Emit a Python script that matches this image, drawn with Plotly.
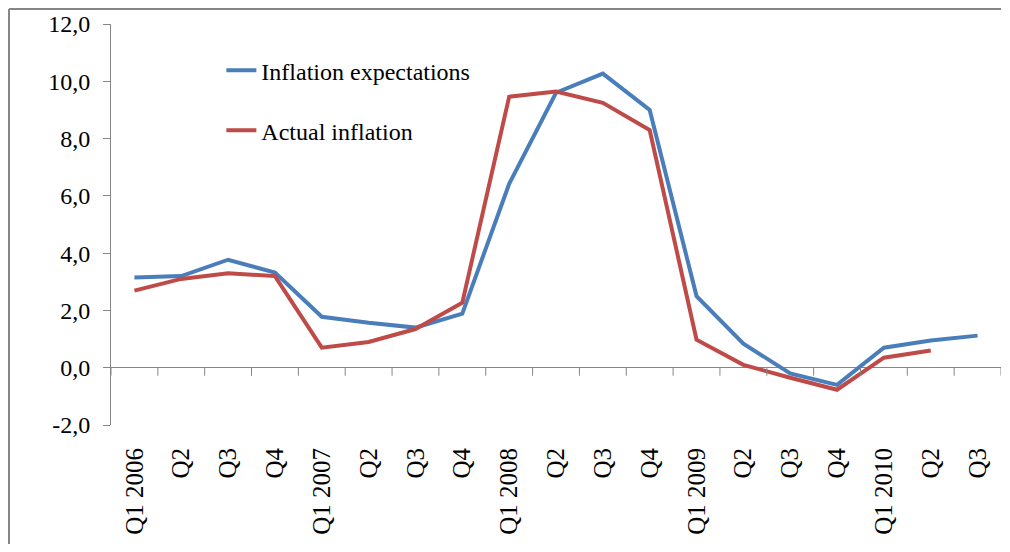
import plotly.graph_objects as go

quarters = ["Q1 2006", "Q2", "Q3", "Q4", "Q1 2007", "Q2", "Q3", "Q4",
            "Q1 2008", "Q2", "Q3", "Q4", "Q1 2009", "Q2", "Q3", "Q4",
            "Q1 2010", "Q2", "Q3"]
expectations = [3.15, 3.2, 3.77, 3.32, 1.78, 1.57, 1.4, 1.89,
                6.42, 9.6, 10.27, 9.0, 2.5, 0.84, -0.2, -0.6,
                0.7, 0.95, 1.12]
actual = [2.69, 3.1, 3.3, 3.2, 0.7, 0.9, 1.35, 2.27,
          9.46, 9.64, 9.25, 8.3, 0.98, 0.1, -0.35, -0.77,
          0.35, 0.6]
y_ticks = [-2, 0, 2, 4, 6, 8, 10, 12]
y_ticktext = [f"{v:.1f}".replace(".", ",") for v in y_ticks]

FONT = "Liberation Serif"
GRAY = "#868686"
FS = 24
xs = list(range(len(quarters)))
n = len(quarters)

W, H = 994, 536
L, R, T, B = 103, 1, 16, 119
PW, PH = W - L - R, H - T - B

fig = go.Figure()
fig.add_trace(go.Scatter(x=xs, y=expectations, mode="lines", name="Inflation expectations",
                         legendgroup="a", line=dict(color="#4A7EBB", width=4)))
fig.add_trace(go.Scatter(x=xs[:len(actual)], y=actual, mode="lines", name="Actual inflation",
                         legendgroup="b", line=dict(color="#BE4B48", width=4)))

# category-boundary tick marks on the zero line
tick_shapes = [dict(type="line", xref="x", yref="y", ysizemode="pixel", yanchor=0,
                    x0=i - 0.5, x1=i - 0.5, y0=0, y1=-8,
                    line=dict(color=GRAY, width=1))
               for i in range(n + 1)]

bx = -(L - 1) / PW
by = 1 + (T - 1) / PH
border = [
    dict(type="line", xref="paper", yref="paper", x0=bx, x1=bx,
         y0=-B / PH, y1=by, line=dict(color=GRAY, width=2), layer="above"),
    dict(type="line", xref="paper", yref="paper", x0=bx, x1=1.0,
         y0=by, y1=by, line=dict(color=GRAY, width=2), layer="above"),
]

fig.update_layout(
    width=W, height=H,
    margin=dict(l=L, r=R, t=T, b=B, autoexpand=False),
    paper_bgcolor="white", plot_bgcolor="white",
    font=dict(family=FONT, size=FS, color="black"),
    showlegend=True,
    legend=dict(x=0.124, y=0.94, xanchor="left", yanchor="top",
                bgcolor="rgba(0,0,0,0)", tracegroupgap=26,
                font=dict(family=FONT, size=FS, color="black")),
    xaxis=dict(range=[-0.5, n - 0.5], tickvals=xs, ticktext=quarters,
               tickangle=-90, showline=False, showgrid=False, zeroline=False,
               ticks="", ticklabelstandoff=17, automargin=False,
               tickfont=dict(family=FONT, size=25, color="black")),
    yaxis=dict(range=[-2, 12], tickvals=y_ticks, ticktext=y_ticktext,
               showline=True, linecolor=GRAY, linewidth=1, ticks="outside",
               ticklen=7, tickcolor=GRAY, showgrid=False,
               zeroline=True, zerolinecolor=GRAY, zerolinewidth=1,
               ticklabelstandoff=8, automargin=False,
               tickfont=dict(family=FONT, size=FS, color="black")),
    shapes=tick_shapes + border,
)

fig.write_html("out.html")
